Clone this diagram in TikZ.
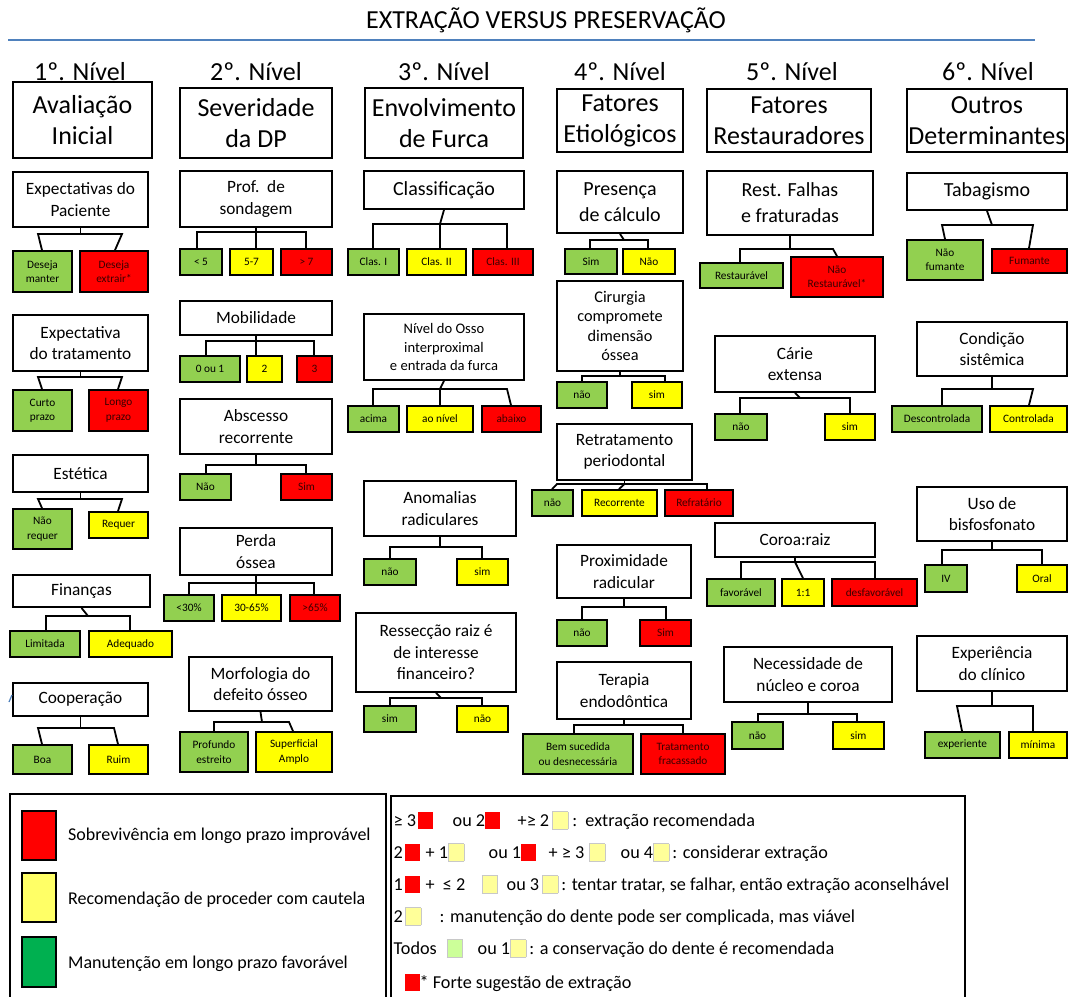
\documentclass[tikz,border=0pt]{standalone}
\usepackage{fontspec}
\setmainfont{Carlito}
\definecolor{lgreen}{HTML}{92D050}
\definecolor{lyellow}{HTML}{FFFF00}
\definecolor{lred}{HTML}{FF0000}
\definecolor{rtext}{HTML}{3A0000}
\definecolor{bgreen}{HTML}{00B050}
\definecolor{byellow}{HTML}{FFFF66}
\definecolor{sqred}{HTML}{FF0000}
\definecolor{sqyel}{HTML}{FFFF99}
\definecolor{sqgrn}{HTML}{CCFF99}
\definecolor{sqedge}{HTML}{C8C8C8}
\definecolor{tblue}{HTML}{4F81BD}
\newcommand{\bx}[7]{\node[#2,minimum width={#5-#3},minimum height={#6-#4}] (#1) at ({(#3+#5)/2},{(#4+#6)/2}) {#7};}
\newcommand{\legRq}{\textcolor{sqred}{\rule[-3pt]{15pt}{17pt}}}
\newcommand{\legYq}{{\setlength{\fboxsep}{0pt}\setlength{\fboxrule}{0.6pt}\fcolorbox{sqedge}{sqyel}{\rule[-3pt]{0pt}{17pt}\hspace{15pt}}}}
\newcommand{\legGq}{{\setlength{\fboxsep}{0pt}\setlength{\fboxrule}{0.6pt}\fcolorbox{sqedge}{sqgrn}{\rule[-3pt]{0pt}{17pt}\hspace{15pt}}}}
\newcommand{\putat}[2]{\rlap{\hspace{#1pt}#2}}
\begin{document}
\begin{tikzpicture}[x=1pt,y=-1pt,
  hdr/.style={draw,line width=2.2pt,fill=white,align=center,inner sep=0pt,font=\fontsize{26}{31}\selectfont},
  qb/.style={draw,line width=1.8pt,fill=white,align=center,inner sep=0pt,font=\fontsize{17.3}{21.5}\selectfont},
  qbl/.style={qb,font=\fontsize{20}{26}\selectfont},
  qbs/.style={qb,font=\fontsize{14.6}{18.3}\selectfont},
  qbc/.style={qb,font=\fontsize{16.3}{19.6}\selectfont},
  lf/.style={draw,line width=1.8pt,align=center,inner sep=0pt,font=\fontsize{11.3}{14.5}\selectfont},
  gl/.style={lf,fill=lgreen},
  yl/.style={lf,fill=lyellow},
  rl/.style={lf,fill=lred,text=rtext},
  cn/.style={line width=1.8pt},
  lvl/.style={anchor=base,inner sep=0pt,font=\fontsize{26}{30}\selectfont},
  legt/.style={anchor=base west,inner sep=0pt,font=\fontsize{18.2}{21}\selectfont},
  legl/.style={anchor=west,inner sep=0pt,font=\fontsize{18}{21}\selectfont},
  frame/.style={draw,line width=1.6pt,inner sep=0pt},
]
\useasboundingbox (0,0) rectangle (1068,996);
\clip (0,0) rectangle (1068,996);

% title
\node[anchor=base,inner sep=0pt,font=\fontsize{26}{30}\selectfont] (title) at (546,28) {EXTRAÇÃO VERSUS PRESERVAÇÃO};
\draw[tblue,line width=2pt] (8,40) -- (1035,40);

% level labels
\node[lvl] (l1) at (80,80.5) {1º. Nível};
\node[lvl] (l2) at (256,80.5) {2º. Nível};
\node[lvl] (l3) at (444,80.5) {3º. Nível};
\node[lvl] (l4) at (620,80.5) {4º. Nível};
\node[lvl] (l5) at (792,80.5) {5º. Nível};
\node[lvl] (l6) at (988,80.5) {6º. Nível};

% headers
\bx{h1}{hdr}{13}{82}{152}{158}{Avaliação\\Inicial}
\bx{h2}{hdr}{180}{88}{332}{158}{Severidade\\da DP}
\bx{h3}{hdr}{365}{88}{523}{158}{Envolvimento\\de Furca}
\bx{h4}{hdr}{557}{89}{683}{152}{Fatores\\Etiológicos}
\bx{h5}{hdr}{707}{89}{871}{152}{Fatores\\Restauradores}
\bx{h6}{hdr}{907}{89}{1067}{152}{Outros\\Determinantes}

% ---------- column 1
\bx{c1a}{qb}{13}{172}{148}{227}{Expectativas do\\Paciente}
\bx{c1a1}{gl}{13}{251}{72}{292}{Deseja\\manter}
\bx{c1a2}{rl}{80}{251}{148}{292}{Deseja\\extrair*}
\bx{c1b}{qb}{13}{315}{148}{371}{Expectativa\\do tratamento}
\bx{c1b1}{gl}{13}{390}{72}{431}{Curto\\prazo}
\bx{c1b2}{rl}{89}{390}{148}{431}{Longo\\prazo}
\bx{c1c}{qb}{13}{455}{148}{492}{Estética}
\bx{c1c1}{gl}{13}{509}{72}{549}{Não\\requer}
\bx{c1c2}{yl}{89}{512}{148}{538}{Requer}
\bx{c1d}{qb}{13}{575}{150}{607}{Finanças}
\bx{c1d1}{gl}{10}{631}{80}{657}{Limitada}
\bx{c1d2}{yl}{89}{631}{172}{657}{Adequado}
\bx{c1e}{qb}{13}{683}{148}{716}{Cooperação}
\bx{c1e1}{gl}{13}{745}{72}{774}{Boa}
\bx{c1e2}{yl}{89}{745}{148}{774}{Ruim}
\draw[tblue,line width=1.2pt] (9,702) -- (12,695);

% ---------- column 2
\bx{c2a}{qb}{180}{171}{332}{227}{Prof.\ \ de\\sondagem}
\bx{c2a1}{gl}{180}{249}{222}{275}{< 5}
\bx{c2a2}{yl}{230}{249}{273}{275}{5-7}
\bx{c2a3}{rl}{281}{249}{332}{275}{> 7}
\bx{c2b}{qb}{180}{301}{332}{335}{Mobilidade}
\bx{c2b1}{gl}{180}{356}{240}{382}{0 ou 1}
\bx{c2b2}{yl}{247}{356}{282}{382}{2}
\bx{c2b3}{rl}{297}{356}{332}{382}{3}
\bx{c2c}{qb}{180}{399}{332}{454}{Abscesso\\recorrente}
\bx{c2c1}{gl}{180}{474}{231}{500}{Não}
\bx{c2c2}{rl}{281}{474}{332}{500}{Sim}
\bx{c2d}{qb}{180}{528}{332}{575}{Perda\\óssea}
\bx{c2d1}{gl}{164}{595}{214}{621}{<30\%}
\bx{c2d2}{yl}{222}{595}{281}{621}{30-65\%}
\bx{c2d3}{rl}{290}{595}{340}{621}{>65\%}
\bx{c2e}{qb}{189}{657}{332}{711}{Morfologia do\\defeito ósseo}
\bx{c2e1}{gl}{180}{732}{248}{772}{Profundo\\estreito}
\bx{c2e2}{yl}{256}{732}{332}{772}{Superficial\\Amplo}

% ---------- column 3
\bx{c3a}{qbl}{364}{171}{524}{209}{Classificação}
\bx{c3a1}{gl}{348}{249}{399}{275}{Clas. I}
\bx{c3a2}{yl}{407}{249}{466}{275}{Clas. II}
\bx{c3a3}{rl}{473}{249}{533}{275}{Clas. III}
\bx{c3b}{qbs}{364}{314}{524}{380}{Nível do Osso\\interproximal\\e entrada da furca}
\bx{c3b1}{gl}{348}{406}{399}{432}{acima}
\bx{c3b2}{yl}{407}{406}{473}{432}{ao nível}
\bx{c3b3}{rl}{482}{406}{541}{432}{abaixo}
\bx{c3c}{qb}{364}{481}{516}{536}{Anomalias\\radiculares}
\bx{c3c1}{gl}{364}{559}{416}{585}{não}
\bx{c3c2}{yl}{457}{559}{508}{585}{sim}
\bx{c3d}{qb}{356}{613}{516}{692}{Ressecção raiz é\\de interesse\\financeiro?}
\bx{c3d1}{gl}{364}{706}{416}{732}{sim}
\bx{c3d2}{yl}{457}{706}{508}{732}{não}

% ---------- column 4
\bx{c4a}{qbl}{557}{171}{683}{233}{Presença\\de cálculo}
\bx{c4a1}{gl}{565}{249}{617}{274}{Sim}
\bx{c4a2}{yl}{623}{249}{675}{274}{Não}
\bx{c4b}{qbc}{557}{281}{683}{371}{Cirurgia\\compromete\\dimensão\\óssea}
\bx{c4b1}{gl}{557}{382}{607}{408}{não}
\bx{c4b2}{yl}{632}{382}{682}{408}{sim}
\bx{c4c}{qb}{557}{424}{692}{480}{Retratamento\\periodontal}
\bx{c4c1}{gl}{532}{490}{573}{516}{não}
\bx{c4c2}{yl}{582}{490}{657}{516}{Recorrente}
\bx{c4c3}{rl}{665}{490}{733}{516}{Refratário}
\bx{c4d}{qb}{557}{545}{691}{598}{Proximidade\\radicular}
\bx{c4d1}{gl}{557}{620}{607}{646}{não}
\bx{c4d2}{rl}{640}{620}{691}{646}{Sim}
\bx{c4e}{qb}{557}{662}{691}{719}{Terapia\\endodôntica}
\bx{c4e1}{gl}{523}{734}{633}{774}{Bem sucedida\\ou desnecessária}
\bx{c4e2}{rl}{641}{734}{725}{774}{Tratamento\\fracassado}

% ---------- column 5
\bx{c5a}{qbl}{707}{171}{873}{235}{Rest. Falhas\\e fraturadas}
\bx{c5a1}{gl}{700}{263}{783}{288}{Restaurável}
\bx{c5a2}{rl}{791}{257}{883}{297}{Não\\Restaurável*}
\bx{c5b}{qb}{715}{336}{875}{392}{Cárie\\extensa}
\bx{c5b1}{gl}{715}{414}{767}{440}{não}
\bx{c5b2}{yl}{825}{414}{875}{440}{sim}
\bx{c5c}{qb}{715}{523}{875}{557}{Coroa:raiz}
\bx{c5c1}{gl}{707}{579}{775}{606}{favorável}
\bx{c5c2}{yl}{782}{579}{824}{606}{1:1}
\bx{c5c3}{rl}{832}{579}{917}{606}{desfavorável}
\bx{c5d}{qb}{724}{647}{892}{702}{Necessidade de\\núcleo e coroa}
\bx{c5d1}{gl}{732}{722}{783}{749}{não}
\bx{c5d2}{yl}{833}{722}{884}{749}{sim}

% ---------- column 6
\bx{c6a}{qbl}{907}{173}{1067}{210}{Tabagismo}
\bx{c6a1}{gl}{907}{240}{983}{280}{Não\\fumante}
\bx{c6a2}{rl}{992}{249}{1067}{273}{Fumante}
\bx{c6b}{qb}{917}{322}{1067}{376}{Condição\\sistêmica}
\bx{c6b1}{gl}{892}{406}{982}{432}{Descontrolada}
\bx{c6b2}{yl}{990}{406}{1067}{432}{Controlada}
\bx{c6c}{qb}{917}{487}{1067}{541}{Uso de\\bisfosfonato}
\bx{c6c1}{gl}{925}{565}{967}{592}{IV}
\bx{c6c2}{yl}{1017}{565}{1067}{592}{Oral}
\bx{c6d}{qb}{917}{636}{1067}{691}{Experiência\\do clínico}
\bx{c6d1}{gl}{925}{732}{1000}{758}{experiente}
\bx{c6d2}{yl}{1009}{732}{1067}{758}{mínima}

% ---------- connectors column 1
\draw[cn] (c1a.south) -- (c1a.south |- 0,234);
\draw[cn] (c1a1.north -| 42,0) -- (38,234) -- (122,234) -- (c1a2.north -| 115,0);
\draw[cn] (c1b.south) -- (c1b.south |- 0,377);
\draw[cn] (c1b1.north -| 42,0) -- (38,377) -- (122,377) -- (c1b2.north -| 118,0);
\draw[cn] (c1c.south) -- (c1c.south |- 0,499);
\draw[cn] (c1c1.north -| 42,0) -- (38,499) -- (122,499) -- (c1c2.north -| 118,0);
\draw[cn] (c1d.south) -- (88,616);
\draw[cn] (c1d1.north -| 46,0) -- (46,616) -- (130,616) -- (c1d2.north -| 130,0);
\draw[cn] (c1e.south) -- (c1e.south |- 0,728);
\draw[cn] (c1e1.north -| 42,0) -- (38,728) -- (114,728) -- (c1e2.north -| 118,0);
% column 2
\draw[cn] (c2a.south) -- (c2a.south |- c2a2.north);
\draw[cn] (c2a1.north -| 197,0) -- (197,232) -- (306,232) -- (c2a3.north -| 306,0);
\draw[cn] (c2b.south) -- (c2b.south |- c2b2.north);
\draw[cn] (c2b1.north -| 206,0) -- (206,341) -- (314,341) -- (c2b3.north -| 314,0);
\draw[cn] (c2c.south) -- (c2c.south |- 0,465);
\draw[cn] (c2c1.north -| 206,0) -- (206,465) -- (306,465) -- (c2c2.north -| 306,0);
\draw[cn] (c2d.south) -- (c2d.south |- c2d2.north);
\draw[cn] (c2d1.north -| 189,0) -- (189,583) -- (314,583) -- (c2d3.north -| 314,0);
\draw[cn] (c2e.south) -- (262,722);
\draw[cn] (c2e1.north -| 214,0) -- (214,722) -- (289,722) -- (c2e2.north -| 293,0);
% column 3
\draw[cn] (c3a.south) -- (440,224) -- (c3a2.north -| 440,0);
\draw[cn] (c3a1.north -| 373,0) -- (373,224) -- (507,224) -- (c3a3.north -| 507,0);
\draw[cn] (c3b.south) -- (440,389) -- (c3b2.north -| 440,0);
\draw[cn] (c3b1.north -| 373,0) -- (373,389) -- (507,389) -- (c3b3.north -| 511,0);
\draw[cn] (c3c.south) -- (c3c.south |- 0,547);
\draw[cn] (c3c1.north -| 390,0) -- (390,547) -- (482,547) -- (c3c2.north -| 482,0);
\draw[cn] (c3d.south) -- (441,698);
\draw[cn] (c3d1.north -| 390,0) -- (390,698) -- (482,698) -- (c3d2.north -| 482,0);
% column 4
\draw[cn] (c4a.south) -- (624,240);
\draw[cn] (c4a1.north -| 590,0) -- (590,240) -- (648,240) -- (c4a2.north -| 648,0);
\draw[cn] (c4b.south) -- (c4b.south |- 0,376);
\draw[cn] (c4b1.north -| 582,0) -- (582,376) -- (665,376) -- (c4b2.north -| 665,0);
\draw[cn] (c4c.south) -- (c4c.south |- 0,484);
\draw[cn] (c4c1.north -| 552,0) -- (557,484) -- (707,484) -- (c4c3.north -| 707,0);
\draw[cn] (c4c.south |- 0,484) -- (c4c2.north -| 619,0);
\draw[cn] (c4d.south) -- (c4d.south |- 0,607);
\draw[cn] (c4d1.north -| 582,0) -- (582,607) -- (666,607) -- (c4d2.north -| 666,0);
\draw[cn] (c4e.south) -- (c4e.south |- 0,725);
\draw[cn] (c4e1.north -| 574,0) -- (574,725) -- (683,725) -- (c4e2.north -| 683,0);
% column 5
\draw[cn] (c5a.south) -- (c5a.south |- 0,249);
\draw[cn] (c5a1.north -| 740,0) -- (740,249) -- (833,249) -- (c5a2.north -| 837,0);
\draw[cn] (c5b.south) -- (800,398);
\draw[cn] (c5b1.north -| 740,0) -- (740,398) -- (850,398) -- (c5b2.north -| 850,0);
\draw[cn] (c5c.south) -- (c5c.south |- 0,562) -- (c5c2.north -| 803,0);
\draw[cn] (c5c1.north -| 741,0) -- (741,562) -- (875,562) -- (c5c3.north -| 875,0);
\draw[cn] (c5d.south) -- (c5d.south |- 0,714);
\draw[cn] (c5d1.north -| 758,0) -- (758,714) -- (857,714) -- (c5d2.north -| 857,0);
% column 6
\draw[cn] (c6a.south) -- (992,225);
\draw[cn] (c6a1.north -| 945,0) -- (942,225) -- (1033,225) -- (c6a2.north -| 1029,0);
\draw[cn] (c6b.south) -- (c6b.south |- 0,389);
\draw[cn] (c6b1.north -| 942,0) -- (942,389) -- (1033,389) -- (c6b2.north -| 1029,0);
\draw[cn] (c6c.south) -- (c6c.south |- 0,550);
\draw[cn] (c6c1.north -| 942,0) -- (942,550) -- (1042,550) -- (c6c2.north -| 1042,0);
\draw[cn] (c6d.south) -- (c6d.south |- 0,706);
\draw[cn] (c6d1.north -| 962,0) -- (957,706) -- (1033,706) -- (c6d2.north -| 1033,0);

% ---------- legend left
\bx{legL}{frame}{10}{794}{386}{1003}{}
\bx{sr}{frame,fill=lred}{22}{811}{56}{860}{}
\bx{sy}{frame,fill=byellow}{22}{873}{56}{922}{}
\bx{sg}{frame,fill=bgreen}{22}{937}{56}{987}{}
\node[legl] (tr) at (68,836) {Sobrevivência em longo prazo improvável};
\node[legl] (ty) at (68,900) {Recomendação de proceder com cautela};
\node[legl] (tg) at (68,964) {Manutenção em longo prazo favorável};

% ---------- legend right
\bx{legR}{frame}{391}{796}{965}{1003}{}
\node[legt] (r1) at (393,826) {\strut\putat{0}{≥ 3\hspace{2pt}\legRq}\putat{59}{ou 2\legRq}\putat{124}{+≥ 2\hspace{3pt}\legYq\hspace{4pt}:\ \ extração recomendada}};
\node[legt] (r2) at (393,858) {\strut\putat{0}{2\hspace{2pt}\legRq}\putat{32}{+ 1\legYq}\putat{95}{ou 1\legRq}\putat{155}{+ ≥ 3\hspace{5pt}\legYq}\putat{227}{ou 4\legYq\,: considerar extração}};
\node[legt] (r3) at (393,890) {\strut\putat{0}{1\hspace{2pt}\legRq}\putat{32}{+\ \ ≤ 2}\putat{88}{\legYq}\putat{113}{ou 3\hspace{3pt}\legYq\,: tentar tratar, se falhar, então extração aconselhável}};
\node[legt] (r4) at (393,922) {\strut\putat{0}{2\hspace{2pt}\legYq}\putat{46}{: manutenção do dente pode ser complicada, mas viável}};
\node[legt] (r5) at (393,954) {\strut\putat{0}{Todos}\putat{53}{\legGq}\putat{84}{ou 1\legYq\,: a conservação do dente é recomendada}};
\node[legt] (r6) at (393,988) {\strut\putat{11}{\legRq* Forte sugestão de extração}};
\end{tikzpicture}
\end{document}
